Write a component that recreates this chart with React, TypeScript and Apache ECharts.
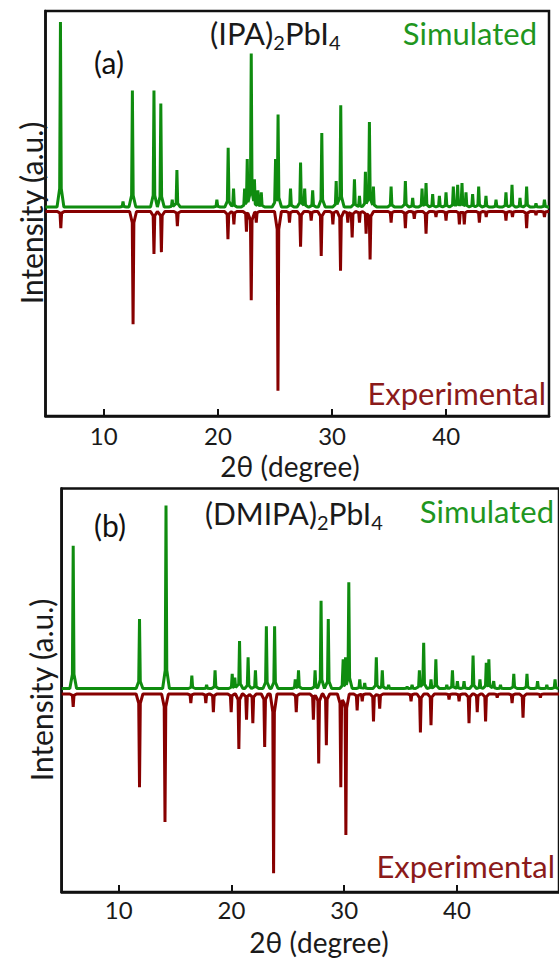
import React, { useEffect, useRef } from "react";
import * as echarts from "echarts";

// ---- tick labels ----
const tickValues = [10, 20, 30, 40];

// ---- panel (a): (IPA)2PbI4 ----
const simAPos = [6.21, 11.69, 12.51, 14.4, 15.0, 16.0, 16.41, 19.91, 20.9, 21.37, 22.34, 22.57, 22.92, 23.2, 23.5, 23.8, 25.05, 25.27, 26.36, 27.24, 27.6, 28.3, 29.1, 30.36, 30.76, 31.96, 32.4, 32.92, 33.27, 33.62, 35.17, 36.42, 37.06, 37.88, 38.23, 38.81, 39.4, 39.98, 40.62, 41.0, 41.38, 41.73, 42.31, 42.84, 43.48, 44.36, 45.23, 45.76, 46.46, 47.04, 47.86, 48.6];
const simAInt = [100, 3, 63, 63, 56, 4, 20, 4, 32, 10, 10, 26, 83, 15, 9, 8, 26, 50, 10, 24, 10, 9, 40, 14, 55, 15, 6, 19, 46, 11, 11, 14, 5, 10, 13, 7, 6, 8, 11, 12, 13, 8, 7, 11, 6, 4, 8, 12, 5, 11, 2, 4];
const expAPos = [6.24, 12.57, 14.4, 15.05, 16.45, 20.88, 21.4, 22.5, 22.92, 23.36, 25.26, 26.27, 27.24, 28.17, 29.05, 30.07, 30.74, 31.38, 31.76, 32.4, 32.98, 33.33, 35.17, 36.42, 37.2, 38.23, 39.1, 39.98, 41.15, 41.58, 42.9, 43.5, 45.23, 45.8, 47.04, 47.86, 48.6];
const expAInt = [9, 61, 23, 22, 8, 15, 7, 11, 48, 6, 97, 6, 19, 5, 24, 7, 32, 6, 14, 6, 12, 26, 6, 9, 4, 12, 3, 5, 7, 7, 6, 3, 5, 3, 9, 2, 3];

// ---- panel (b): (DMIPA)2PbI4 ----
const simBPos = [5.97, 11.85, 14.2, 16.49, 17.8, 18.55, 20.07, 20.3, 20.72, 21.48, 22.13, 23.1, 23.83, 25.66, 25.95, 27.42, 27.95, 28.59, 29.91, 30.12, 30.41, 31.38, 31.82, 32.85, 33.38, 33.94, 35.58, 36.02, 36.67, 37.05, 37.7, 38.13, 39.1, 39.6, 40.04, 40.63, 41.43, 42.04, 42.6, 42.83, 43.26, 43.86, 45.04, 46.21, 47.15, 47.97, 48.7];
const simBInt = [78, 38, 100, 7, 2, 10, 8, 6, 26, 17, 10, 34, 34, 5, 10, 10, 48, 38, 16, 17, 58, 5, 3, 17, 10, 2, 1, 2, 10, 25, 5, 16, 2, 10, 4, 4, 18, 5, 14, 16, 4, 2, 8, 8, 4, 2, 5];
const expBPos = [5.97, 11.85, 14.11, 16.4, 17.73, 18.4, 19.98, 20.66, 21.34, 21.9, 22.95, 23.74, 25.75, 27.27, 27.74, 28.42, 29.7, 30.15, 31.15, 31.6, 32.6, 33.15, 35.93, 36.76, 37.7, 39.3, 40.19, 41.07, 41.8, 42.54, 43.57, 44.89, 45.86, 47.4];
const expBInt = [7, 51, 70, 5, 5, 10, 10, 30, 14, 16, 29, 98, 10, 14, 38, 28, 51, 77, 9, 4, 15, 8, 4, 21, 17, 3, 4, 16, 10, 15, 2, 5, 13, 2];

const GREEN = "#0f8c0f";
const RED = "#870000";
const FONT = "Lato";

function profile(pos: number[], inten: number[], base: number, sign: number, xmin: number, xmax: number) {
  const half = 0.3;
  const shoulder = 0.07;
  const sf = 0.1;
  const xs = new Set<number>([xmin, xmax]);
  pos.forEach((p) => {
    [p - half, p - shoulder, p, p + shoulder, p + half].forEach((x) => xs.add(+x.toFixed(3)));
  });
  const sorted = Array.from(xs).sort((a, b) => a - b);
  return sorted.map((x) => {
    let v = 0;
    pos.forEach((p, i) => {
      const d = Math.abs(x - p);
      const h = inten[i];
      let y = 0;
      if (d <= shoulder) y = h - (h - sf * h) * (d / shoulder);
      else if (d <= half) y = (sf * h * (half - d)) / (half - shoulder);
      if (y > v) v = y;
    });
    return [x, base + sign * v];
  });
}

function txt(text: string, x: number, y: number, size: number, color: string, align: string, rotation = 0) {
  return {
    type: "text",
    x,
    y,
    rotation,
    style: { text, fontSize: size, fontFamily: FONT, fill: color, align, verticalAlign: "middle" },
    z: 10,
  };
}

function title(main1: string, sub1: string, main2: string, sub2: string, x: number, y: number, size: number) {
  return {
    type: "text",
    x,
    y,
    style: {
      text: `{n|${main1}}{s|${sub1}}{n|${main2}}{s|${sub2}}`,
      align: "left",
      verticalAlign: "middle",
      rich: {
        n: { fontSize: size, fontFamily: FONT, fill: "#1a1a1a", lineHeight: 38, verticalAlign: "middle" },
        s: { fontSize: Math.round(size * 0.65), fontFamily: FONT, fill: "#1a1a1a", lineHeight: 20, verticalAlign: "bottom" },
      },
    },
    z: 10,
  };
}

export default function App() {
  const ref = useRef<HTMLDivElement>(null);
  useEffect(() => {
    if (!ref.current) return;
    const chart = echarts.init(ref.current, null, { renderer: "svg" });
    const xa: [number, number] = [4.9, 49];
    const xb: [number, number] = [4.95, 49.05];
    const xAxisCommon = (idx: number, margin: number, range: [number, number]) => ({
      type: "value",
      gridIndex: idx,
      min: range[0],
      max: range[1],
      position: "bottom",
      axisLine: { show: true, onZero: false, lineStyle: { color: "#111", width: 2.5 } },
      axisTick: { show: true, inside: true, length: 7, lineStyle: { color: "#111", width: 2 }, customValues: tickValues },
      axisLabel: { show: true, customValues: tickValues, margin, fontSize: 24, lineHeight: 24, fontFamily: FONT, color: "#1a1a1a" },
      splitLine: { show: false },
    });
    const yAxisCommon = (idx: number, min: number, max: number) => ({
      type: "value",
      gridIndex: idx,
      min,
      max,
      axisLine: { show: true, onZero: false, lineStyle: { color: "#111", width: 2.5 } },
      axisTick: { show: false },
      axisLabel: { show: false },
      splitLine: { show: false },
    });
    const option: any = {
      animation: false,
      backgroundColor: "#ffffff",
      grid: [
        { left: 45.5, top: 11, width: 503.5, height: 405, show: true, borderColor: "#111", borderWidth: 2.5, backgroundColor: "transparent" },
        { left: 61.7, top: 488.5, width: 500.3, height: 403.5, show: true, borderColor: "#111", borderWidth: 2.5, backgroundColor: "transparent" },
      ],
      xAxis: [xAxisCommon(0, 7, xa), xAxisCommon(1, 5, xb)],
      yAxis: [yAxisCommon(0, -113, 106), yAxisCommon(1, -111.2, 109.3)],
      series: [
        { type: "line", xAxisIndex: 0, yAxisIndex: 0, data: profile(expAPos, expAInt, -2.4, -1, xa[0], xa[1]), showSymbol: false, lineStyle: { color: RED, width: 3 }, z: 2 },
        { type: "line", xAxisIndex: 0, yAxisIndex: 0, data: profile(simAPos, simAInt, 0, 1, xa[0], xa[1]), showSymbol: false, lineStyle: { color: GREEN, width: 3 }, z: 3 },
        { type: "line", xAxisIndex: 1, yAxisIndex: 1, data: profile(expBPos, expBInt, -3, -1, xb[0], xb[1]), showSymbol: false, lineStyle: { color: RED, width: 3 }, z: 2 },
        { type: "line", xAxisIndex: 1, yAxisIndex: 1, data: profile(simBPos, simBInt, 0, 1, xb[0], xb[1]), showSymbol: false, lineStyle: { color: GREEN, width: 3 }, z: 3 },
      ],
      graphic: [
        txt("(a)", 109, 62, 30, "#111", "center"),
        title("(IPA)", "2", "PbI", "4", 210, 32.5, 31),
        txt("Simulated", 537, 33, 31, "#1f961f", "right"),
        txt("Experimental", 546, 393, 31, "#8b1a1a", "right"),
        txt("2θ (degree)", 290, 466, 28, "#1a1a1a", "center"),
        txt("Intensity (a.u.)", 31, 213, 30, "#1a1a1a", "center", Math.PI / 2),
        txt("(b)", 110, 525, 30, "#111", "center"),
        title("(DMIPA)", "2", "PbI", "4", 205, 513, 30),
        txt("Simulated", 554, 511, 31, "#1f961f", "right"),
        txt("Experimental", 555, 866, 31, "#8b1a1a", "right"),
        txt("2θ (degree)", 319, 942, 28, "#1a1a1a", "center"),
        txt("Intensity (a.u.)", 41, 690, 30, "#1a1a1a", "center", Math.PI / 2),
      ],
    };
    chart.setOption(option);
    return () => chart.dispose();
  }, []);
  return <div ref={ref} style={{ position: "absolute", left: 0, top: 0, width: 559, height: 958 }} />;
}
